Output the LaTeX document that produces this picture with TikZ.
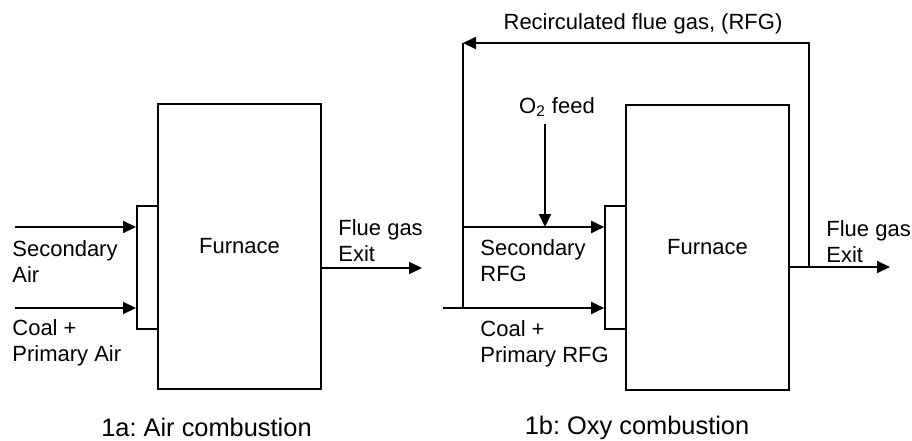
\documentclass[tikz,border=0pt]{standalone}
\usepackage{fontspec}
\setmainfont{Liberation Sans}
\usetikzlibrary{arrows.meta}
\frenchspacing
\begin{document}
\begin{tikzpicture}[x=0.5pt,y=-0.5pt,
  lw/.style={line width=1pt, line join=miter},
  unit/.style={draw, lw, inner sep=0pt, font=\fontsize{11}{13}\selectfont},
  furn/.style={unit, minimum width=81.5pt, minimum height=142.5pt},
  inlet/.style={unit, minimum width=10.5pt, minimum height=61.5pt},
  arr/.style={lw, -{Triangle[length=6.5pt,width=6pt]}},
  lbl/.style={inner sep=0pt, font=\fontsize{11}{13}\selectfont, align=left, anchor=west},
  ctext/.style={inner sep=0pt, font=\fontsize{11}{13}\selectfont},
  capt/.style={inner sep=0pt, font=\fontsize{12.7}{15}\selectfont}]
\useasboundingbox (0,0) rectangle (912,440);

% ---------- 1a ----------
\node[furn] (furnA) at (239.5,246.5) {Furnace};
\node[inlet] (inA) at (147.5,267.5) {};
\coordinate (secA) at (15,227);
\coordinate (coalA) at (15,308);
\coordinate (exA) at (422,268);
\draw[arr] (secA) -- (secA -| inA.west);
\draw[arr] (coalA) -- (coalA -| inA.west);
\draw[arr] (exA -| furnA.east) -- (exA);
\node[lbl] (tSecA) at (12,262) {Secondary\\Air};
\node[lbl] (tCoalA) at (12,343) {Coal +\\Primary Air};
\node[lbl] (tExA) at (338,241) {Flue gas\\Exit};
\node[capt] (capA) at (206.5,427.5) {1a: Air combustion};

% ---------- 1b ----------
\node[furn] (furnB) at (707.5,247) {Furnace};
\node[inlet] (inB) at (615.7,267.5) {};
\coordinate (jS) at (463,227);
\coordinate (jC) at (463,308);
\coordinate (coalB) at (443,308);
\coordinate (jT) at (463,43);
\coordinate (rT) at (809,43);
\coordinate (exB) at (890,267);
\coordinate (o2) at (545,124);
\draw[lw] (jC) -- (jT);
\draw[arr] (rT |- exB) -- (rT) -- (jT);
\draw[arr] (jS) -- (jS -| inB.west);
\draw[arr] (coalB) -- (coalB -| inB.west);
\draw[arr] (exB -| furnB.east) -- (exB);
\draw[arr] (o2) -- (o2 |- jS);
\node[ctext] (tRec) at (643,24) {Recirculated flue gas, (RFG)};
\node[ctext] (tO2) at (557,107) {O\textsubscript{2} feed};
\node[lbl] (tSecB) at (480,261) {Secondary\\RFG};
\node[lbl] (tCoalB) at (480,343.5) {Coal +\\Primary RFG};
\node[lbl] (tExB) at (826,241.5) {Flue gas\\Exit};
\node[capt] (capB) at (637,427.5) {1b: Oxy combustion};
\end{tikzpicture}
\end{document}
